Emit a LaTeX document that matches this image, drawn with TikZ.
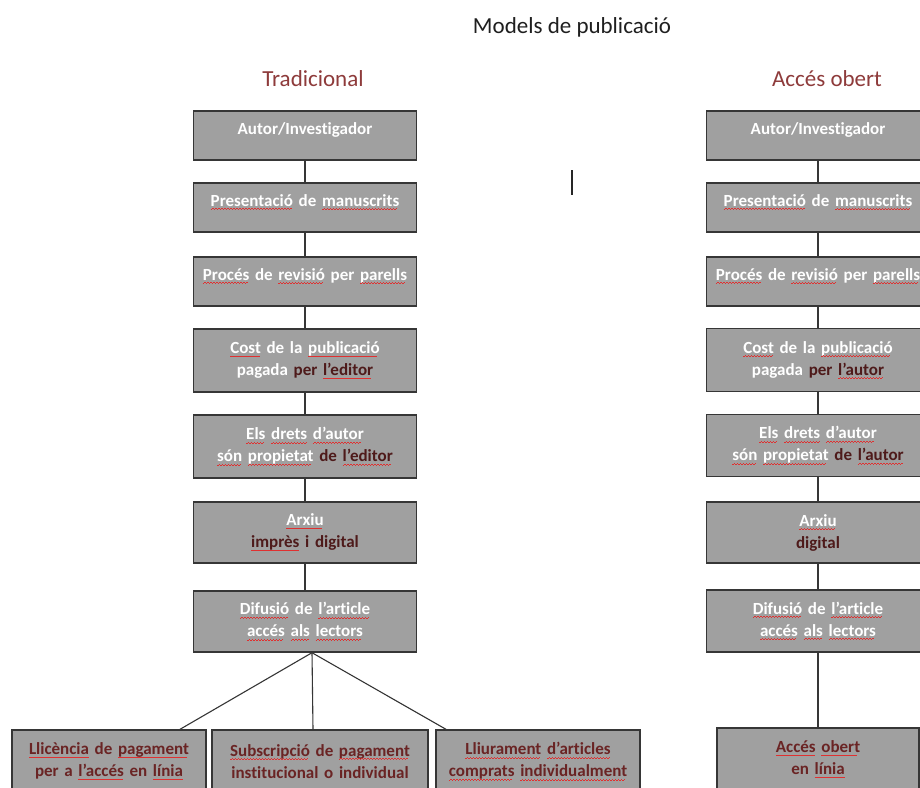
\documentclass[tikz,border=0pt]{standalone}
\usepackage{fontspec}
\setmainfont{Carlito}[Ligatures=NoCommon]
\usetikzlibrary{calc}
\definecolor{boxgray}{HTML}{A0A0A0}
\definecolor{edgegray}{HTML}{363636}
\definecolor{titlered}{HTML}{8E3B3B}
\definecolor{darktext}{HTML}{4E1A1A}
\definecolor{bottomtext}{HTML}{6A2424}
\definecolor{wavered}{HTML}{E03030}
\newsavebox\sqbox
\newcommand\sq[1]{\sbox\sqbox{#1}\leavevmode\rlap{\usebox\sqbox}%
  \lower3.4pt\hbox to\wd\sqbox{\color{wavered}\leaders\hbox{\vrule width1.5pt height0.8pt depth0pt\raise0.8pt\hbox{\vrule width1.5pt height0.8pt depth0pt}}\hfill}}
\newcommand\dk[1]{\textcolor{darktext}{#1}}
\begin{document}
\begin{tikzpicture}[x=1pt,y=-1pt,
  stepbox/.style={draw=edgegray, line width=1.4pt, fill=boxgray, minimum width=223pt,
    text width=215pt, align=center, inner sep=0pt,
    font=\fontsize{17}{22}\selectfont\bfseries, text=white},
  onerow/.style={minimum height=49pt, text depth=14.5pt},
  tworow/.style={minimum height=#1},
  leafbox/.style={stepbox, text=bottomtext, minimum height=63pt},
  conn/.style={draw=edgegray, line width=1.1pt},
  heading/.style={anchor=base, font=\fontsize{23}{27}\selectfont, text=titlered}
]
\useasboundingbox (0,0) rectangle (920,787);
\fill[white] (0,0) rectangle (920,787);
\clip (0,0) rectangle (920,787);

% titles
\node[anchor=base, font=\fontsize{23}{27}\selectfont, text=black!88] (main) at (572,33) {Models de publicació};
\node[heading] (tt) at (313,86) {Tradicional};
\node[heading] (ta) at (827,86) {Accés obert};

% text cursor
\draw[line width=1.8pt, black!85] (572,170) -- (572,195);

% left column
\node[stepbox,onerow] (L1) at (305,135.5) {Autor/Investigador};
\node[stepbox,onerow] (L2) at (305,207.5) {\sq{Presentació} de \sq{manuscrits}};
\node[stepbox,onerow] (L3) at (305,281.5) {\sq{Procés} de \sq{revisió} per \sq{parells}};
\node[stepbox,tworow=63pt] (L4) at (305,360.5) {\sq{Cost} de la \sq{publicació}\\pagada \dk{per \sq{l’editor}}};
\node[stepbox,tworow=63pt] (L5) at (305,446.5) {\sq{Els} \sq{drets} \sq{d’autor}\\\sq{són} \sq{propietat} \dk{de \sq{l’editor}}};
\node[stepbox,tworow=61pt] (L6) at (305,532.5) {\sq{Arxiu}\\\dk{\sq{imprès} i digital}};
\node[stepbox,tworow=61pt] (L7) at (305,621.5) {\sq{Difusió} de \sq{l’article}\\\sq{accés} \sq{als} \sq{lectors}};

% right column
\node[stepbox,onerow] (R1) at (818,135.5) {Autor/Investigador};
\node[stepbox,onerow] (R2) at (818,207.5) {\sq{Presentació} de \sq{manuscrits}};
\node[stepbox,onerow] (R3) at (818,281.5) {\sq{Procés} de \sq{revisió} per \sq{parells}};
\node[stepbox,tworow=63pt] (R4) at (818,360) {\sq{Cost} de la \sq{publicació}\\pagada \dk{per \sq{l’autor}}};
\node[stepbox,tworow=62pt] (R5) at (818,445.5) {\sq{Els} \sq{drets} \sq{d’autor}\\\sq{són} \sq{propietat} \dk{de \sq{l’autor}}};
\node[stepbox,tworow=61pt] (R6) at (818,532.5) {\sq{Arxiu}\\\dk{digital}};
\node[stepbox,tworow=62pt] (R7) at (818,621) {\sq{Difusió} de \sq{l’article}\\\sq{accés} \sq{als} \sq{lectors}};
\node[leafbox, minimum width=202pt, text width=194pt] (R8) at (818,759.5) {\sq{Accés} \sq{obert}\\en \sq{línia}};

% bottom left leaves
\node[leafbox, minimum width=194pt, text width=188pt] (A) at (109,761.5) {\sq{Llicència} de \sq{pagament}\\per a \sq{l’accés} en \sq{línia}};
\node[leafbox, minimum width=216pt, text width=208pt] (B) at (320,761.5) {\sq{Subscripció} de \sq{pagament}\\institucional o individual};
\node[leafbox, minimum width=204pt, text width=196pt] (C) at (538,761.5) {\sq{Lliurament} \sq{d’articles}\\\sq{comprats} \sq{individualment}};

% connectors
\foreach \a/\b in {L1/L2,L2/L3,L3/L4,L4/L5,L5/L6,L6/L7,R1/R2,R2/R3,R3/R4,R4/R5,R5/R6,R6/R7,R7/R8}
  \draw[conn] (\a.south) -- (\b.north);
\coordinate (fan) at ($(L7.south)+(7,0)$);
\draw[conn] (fan) -- ($(A.north)+(71,0)$);
\draw[conn] (fan) -- ($(B.north)+(-7,0)$);
\draw[conn] (fan) -- ($(C.north)+(-92,0)$);
\end{tikzpicture}
\end{document}
